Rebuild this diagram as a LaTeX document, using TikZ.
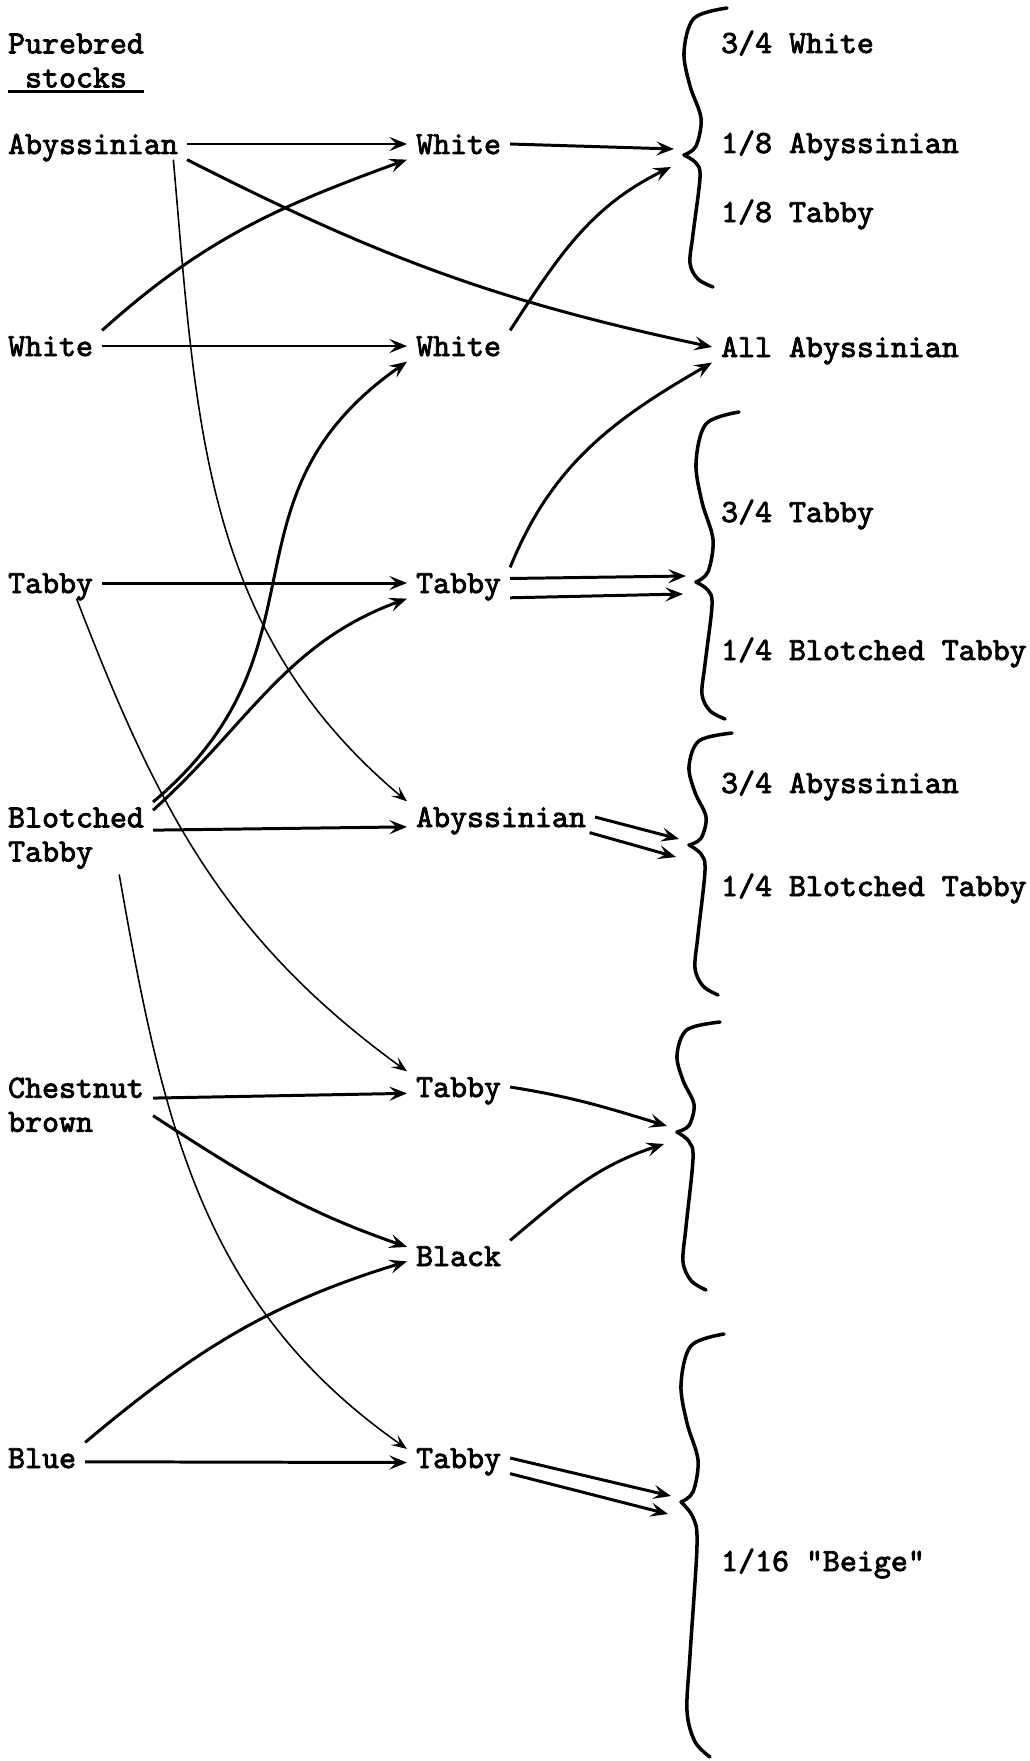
\documentclass[tikz,border=0pt]{standalone}
\usepackage{fontspec}
\usepackage{tikz}
\usetikzlibrary{arrows.meta}

\newfontfamily\catmono{lmmono10-regular}[Extension=.otf,FakeBold=2.5]
\newcommand{\catfont}{\catmono\fontsize{18.4}{19.4}\selectfont}
\newcommand{\underfill}[1]{\setbox0=\hbox{#1}\rlap{\rule[-3pt]{\wd0}{1.5pt}}\box0}
% spine x, top y, tip y, bottom y, name
\newcommand{\catbrace}[5]{%
  \draw[curly] plot[smooth,tension=.55] coordinates {({#1+27},{#2}) ({#1-6},{#2+.07*(#3-(#2))})
    ({#1-16},{#2+.3*(#3-(#2))}) ({#1-10},{#2+.53*(#3-(#2))}) ({#1+1},{#2+.75*(#3-(#2))})
    ({#1-4},{#2+.94*(#3-(#2))}) ({#1-16},{#3})};
  \draw[curly] plot[smooth,tension=.55] coordinates {({#1-16},{#3}) ({#1-4},{#3+.06*(#4-(#3))})
    ({#1},{#3+.17*(#4-(#3))}) ({#1-7},{#3+.6*(#4-(#3))}) ({#1-10},{#3+.82*(#4-(#3))})
    ({#1-2},{#3+.94*(#4-(#3))}) ({#1+13},{#4})};
  \coordinate (#5u) at ({#1-26},{#3+6});
  \coordinate (#5d) at ({#1-29},{#3-12});
}

\begin{document}
\begin{tikzpicture}[x=0.02cm,y=0.02cm,
					cat/.style={font=\catfont,inner xsep=5pt,inner ysep=3pt},
					one/.style={cat,anchor=west,text height=0.4cm,text depth=0pt},
					two/.style={cat,anchor=north west,align=left},
					arr/.style={line width=1.7pt,-{Stealth[length=10pt,width=8pt,inset=4pt]}},
					thinarr/.style={line width=.9pt,-{Stealth[length=9pt,width=7pt,inset=4pt]}},
					curly/.style={line width=2pt,line cap=round,line join=round},
					]
					\useasboundingbox (0,0) rectangle (1029,-1761);
					% purebred stocks
					\node [two] (head) at (-1,-28) {Purebred\\\underfill{\ stocks\ }};
					\node [one] (abL) at (-1,-144) {Abyssinian};
					\node [one] (whL) at (-1,-346) {White};
					\node [one] (taL) at (-1,-583) {Tabby};
					\node [two] (btL) at (-1,-802) {Blotched\\Tabby};
					\node [two] (chL) at (-1,-1072) {Chestnut\\brown};
					\node [one] (blL) at (-1,-1458) {Blue};
					% first crosses
					\node [one] (wh1) at (407,-144) {White};
					\node [one] (wh2) at (407,-346) {White};
					\node [one] (ta3) at (407,-583) {Tabby};
					\node [one] (ab4) at (407,-817) {Abyssinian};
					\node [one] (ta5) at (407,-1087) {Tabby};
					\node [one] (bk6) at (407,-1256) {Black};
					\node [one] (ta7) at (407,-1458) {Tabby};
					% results
					\node [one] (r1a) at (712,-43) {3/4 White};
					\node [one] (r1b) at (712,-143) {1/8 Abyssinian};
					\node [one] (r1c) at (712,-212) {1/8 Tabby};
					\node [one] (r2) at (712,-347) {All Abyssinian};
					\node [one] (r3a) at (712,-512) {3/4 Tabby};
					\node [one] (r3b) at (712,-650) {1/4 Blotched Tabby};
					\node [one] (r4a) at (712,-783) {3/4 Abyssinian};
					\node [one] (r4b) at (712,-886) {1/4 Blotched Tabby};
					\node [one] (r5) at (712,-1561) {1/16 "Beige"};
					\catbrace{700}{-8}{-155}{-287}{br1}
					\catbrace{712}{-412}{-582}{-719}{br2}
					\catbrace{705}{-733}{-845}{-995}{br3}
					\catbrace{693}{-1022}{-1132}{-1290}{br4}
					\catbrace{697}{-1334}{-1502}{-1757}{br5}
					% crosses
					\draw[arr] (abL.east) -- (wh1.west);
					\draw[arr] (abL.south east) to[out=-27,in=168] (r2.west);
					\draw[thinarr] (abL.-11) to[out=-85,in=140] (ab4.north west);
					\draw[arr] (whL.north east) to[out=42,in=200] (wh1.south west);
					\draw[arr] (whL.east) -- (wh2.west);
					\draw[arr] (wh1.east) -- (br1u);
					\draw[arr] (wh2.north east) to[out=57,in=206] (br1d);
					\draw[arr] (ta3.north east) to[out=68,in=210] (r2.south west);
					\draw[arr] (taL.east) -- (ta3.west);
					\draw[arr] (ta3.5) -- (br2u);
					\draw[arr] (ta3.-16) -- (br2d);
					\draw[thinarr] (taL.-31) to[out=-69,in=144] (ta5.north west);
					\draw[arr] (btL.north east) to[out=40,in=215,looseness=1.2] (wh2.south west);
					\draw[arr] (btL.20) to[out=42,in=200] (ta3.south west);
					\draw[arr] (btL.6) -- (ab4.186);
					\draw[thinarr] (btL.-40) to[out=-80,in=145] (ta7.170);
					\draw[arr] (ab4.east) -- (br3u);
					\draw[arr] (ab4.-10) -- (br3d);
					\draw[arr] (chL.5) -- (ta5.187);
					\draw[arr] (chL.-8) to[out=-33,in=161] (bk6.170);
					\draw[arr] (blL.north east) to[out=40,in=197] (bk6.186);
					\draw[arr] (blL.-5) -- (ta7.185);
					\draw[arr] (ta5.east) to[out=-9,in=163] (br4u);
					\draw[arr] (bk6.north east) to[out=40,in=198] (br4d);
					\draw[arr] (ta7.east) -- (br5u);
					\draw[arr] (ta7.south east) -- (br5d);
				\end{tikzpicture}
\end{document}
